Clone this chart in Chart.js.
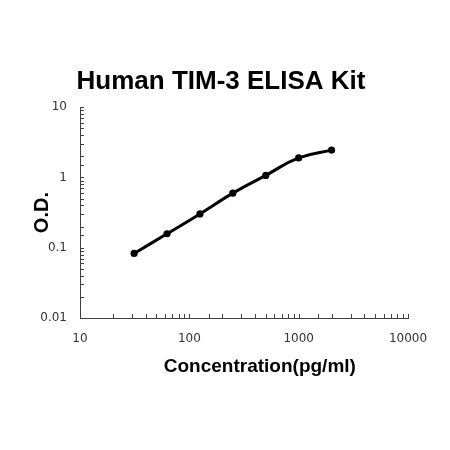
<!DOCTYPE html>
<html>
<head>
<meta charset="utf-8">
<script src="https://cdn.jsdelivr.net/npm/chart.js@4"></script>
<style>
  html, body { margin: 0; padding: 0; background: #fff; }
  #wrap { width: 450px; height: 450px; }
</style>
</head>
<body>
<div id="wrap"><canvas id="elisa"></canvas></div>
<script>
// standard curve data
const concentrations = [31.25, 62.5, 125, 250, 500, 1000, 2000];
const odValues = [0.083, 0.158, 0.303, 0.598, 1.07, 1.90, 2.45];
const xTickLabels = [10, 100, 1000, 10000];
const yTickLabels = [0.01, 0.1, 1, 10];

const axisColor = '#404040';
const labelColor = '#333333';

// only show labels on powers of ten
const isLabelled = (v, list) => list.some(t => Math.abs(t - v) / t < 1e-6);

// small inward tick marks on both axes
const innerTicks = {
    id: 'innerTicks',
    afterDraw(chart) {
        const c = chart.ctx;
        const area = chart.chartArea;
        c.save();
        c.strokeStyle = axisColor;
        c.lineWidth = 1;
        chart.scales.x.ticks.forEach(t => {
            const px = Math.round(chart.scales.x.getPixelForValue(t.value)) + 0.5;
            c.beginPath();
            c.moveTo(px, area.bottom);
            c.lineTo(px, area.bottom - 4);
            c.stroke();
        });
        chart.scales.y.ticks.forEach(t => {
            const py = Math.round(chart.scales.y.getPixelForValue(t.value)) + 0.5;
            c.beginPath();
            c.moveTo(area.left, py);
            c.lineTo(area.left + 4, py);
            c.stroke();
        });
        c.restore();
    }
};

new Chart(document.querySelector('#elisa'), {
    type: 'line',
    data: {
        datasets: [{
            data: concentrations.map((x, i) => ({ x: x, y: odValues[i] })),
            borderColor: '#000',
            backgroundColor: '#000',
            borderWidth: 3,
            pointRadius: 3.6,
            pointBorderWidth: 0,
            tension: 0.45,
            fill: false
        }]
    },
    options: {
        responsive: true,
        maintainAspectRatio: false,
        animation: false,
        layout: { padding: { left: 0, right: 8, top: 0, bottom: 0 } },
        plugins: {
            legend: { display: false },
            tooltip: { enabled: false },
            title: {
                display: true,
                text: 'Human TIM-3 ELISA Kit',
                color: '#000',
                font: { family: 'Liberation Sans, Arial, sans-serif', size: 26, weight: 'bold' },
                padding: { top: 66, bottom: 10 }
            }
        },
        scales: {
            x: {
                type: 'logarithmic',
                min: 10,
                max: 10000,
                afterFit: (scale) => { scale.height = 132; },
                border: { display: true, color: axisColor, width: 1 },
                grid: { display: true, drawOnChartArea: false, drawTicks: false },
                ticks: {
                    autoSkip: false,
                    maxRotation: 0,
                    padding: 14,
                    color: labelColor,
                    font: { family: 'DejaVu Sans, Verdana, sans-serif', size: 12 },
                    callback: (v) => isLabelled(v, xTickLabels) ? String(v) : ''
                },
                title: {
                    display: true,
                    text: '      Concentration(pg/ml)',
                    color: '#000',
                    font: { family: 'Liberation Sans, Arial, sans-serif', size: 19, weight: 'bold' },
                    padding: { top: 0, bottom: 72 }
                }
            },
            y: {
                type: 'logarithmic',
                min: 0.01,
                max: 10,
                afterFit: (scale) => { scale.width = 80; },
                border: { display: true, color: axisColor, width: 1 },
                grid: { display: true, drawOnChartArea: false, drawTicks: false },
                ticks: {
                    autoSkip: false,
                    padding: 13,
                    color: labelColor,
                    font: { family: 'DejaVu Sans, Verdana, sans-serif', size: 12 },
                    callback: (v) => isLabelled(v, yTickLabels) ? String(v) : ''
                },
                title: {
                    display: true,
                    text: 'O.D.',
                    color: '#000',
                    font: { family: 'Liberation Sans, Arial, sans-serif', size: 20, weight: 'bold' },
                    padding: { top: 30, bottom: 0 }
                }
            },
            // empty right-hand spacer so the plot ends where the reference's does
            spacer: {
                position: 'right',
                display: true,
                afterFit: (scale) => { scale.width = 34; },
                border: { display: false },
                grid: { display: false },
                ticks: { display: false }
            }
        }
    },
    plugins: [innerTicks]
});
</script>
</body>
</html>
